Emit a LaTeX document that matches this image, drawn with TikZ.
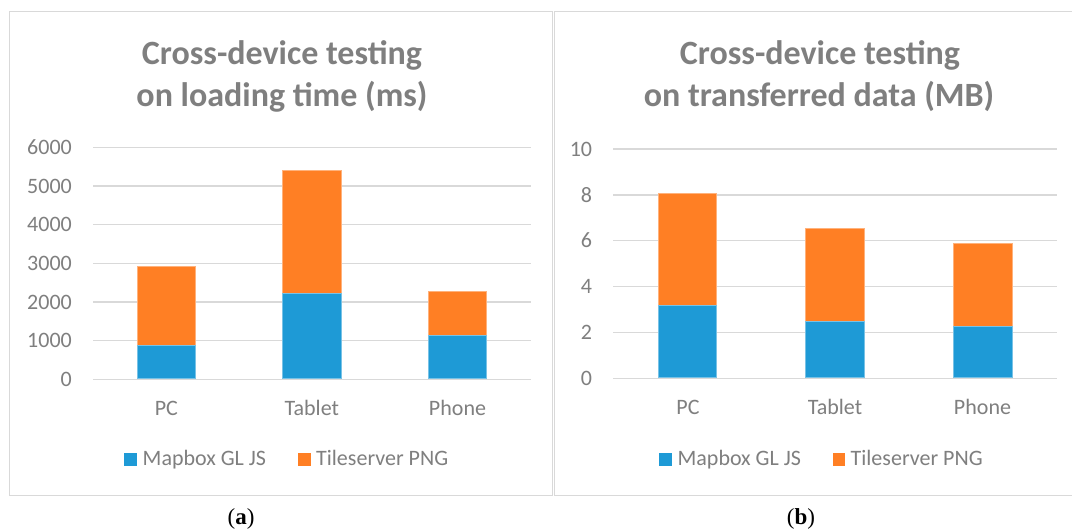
\documentclass[tikz,border=0pt]{standalone}
\usepackage{fontspec}
\setmainfont{Carlito}
\newfontfamily\capfont{Liberation Serif}
\definecolor{mbblue}{HTML}{1E9AD6}
\definecolor{tsorange}{HTML}{FF7F24}
\definecolor{txtgray}{HTML}{7F7F7F}
\definecolor{gridgray}{HTML}{D9D9D9}
\tikzset{
  panel/.style={draw=gridgray, line width=1pt},
  gridline/.style={draw=gridgray, line width=1.5pt},
  charttitle/.style={font=\fontsize{34}{40}\selectfont\bfseries, text=txtgray, anchor=base, inner sep=0},
  ticklabel/.style={font=\fontsize{22}{26}\selectfont, text=txtgray, anchor=base east, inner sep=0},
  catlabel/.style={font=\fontsize{22}{26}\selectfont, text=txtgray, anchor=base, inner sep=0},
  legtext/.style={font=\fontsize{22}{26}\selectfont, text=txtgray, anchor=base west, inner sep=0},
  bluebar/.style={fill=mbblue, draw=mbblue!60!white, line width=0.5pt},
  orangebar/.style={fill=tsorange, draw=tsorange!60!white, line width=0.5pt},
  capt/.style={font=\capfont\fontsize{23}{26}\selectfont, anchor=base, inner sep=0},
}
\begin{document}
\begin{tikzpicture}[x=1pt, y=-1pt]
\useasboundingbox (0,0) rectangle (1072,529);
\fill[white] (0,0) rectangle (1072,529);
\begin{scope}
\clip (0,0) rectangle (1072,529);
% panels
\draw[panel] (9.6,11.5) rectangle (552.3,495.7);
\draw[panel] (554.6,11.7) rectangle (1080,495.7);
\end{scope}

% ===== Left chart =====
\node[charttitle] (ta1) at (282,65) {Cross-device testing};
\node[charttitle] (ta2) at (282,107) {on loading time (ms)};
\foreach \v/\y in {0/379.3,1000/340.6,2000/302,3000/263.3,4000/224.6,5000/186,6000/147.3}{
  \draw[gridline] (93.3,\y) -- (531,\y);
  \node[ticklabel] (la\v) at (72,\y+7.2) {\v};
}
% bars: x0/x1/blue/total
\foreach \n/\xa/\xb/\b/\t in {pc/137.3/195.3/869/2930, tab/282.7/341/2224/5413, ph/428.3/486.7/1128/2284}{
  \fill[orangebar] (\xa,{379.3-\t*0.038667}) rectangle (\xb,{379.3-\b*0.038667});
  \fill[bluebar] (\xa,{379.3-\b*0.038667}) rectangle (\xb,378.6);
}
\node[catlabel] (ca1) at (166.3,416) {PC};
\node[catlabel] (ca2) at (311.8,416) {Tablet};
\node[catlabel] (ca3) at (457.5,416) {Phone};
\fill[mbblue] (124,453.3) rectangle (137,465.7);
\node[legtext] (lga1) at (142.5,466) {Mapbox GL JS};
\fill[tsorange] (297.5,453.3) rectangle (310.5,465.7);
\node[legtext] (lga2) at (316,466) {Tileserver PNG};

% ===== Right chart =====
\node[charttitle] (tb1) at (820,65) {Cross-device testing};
\node[charttitle] (tb2) at (819,107) {on transferred data (MB)};
\foreach \v/\y in {0/378.3,2/332.4,4/286.6,6/240.7,8/194.9,10/149}{
  \draw[gridline] (613.3,\y) -- (1057,\y);
  \node[ticklabel] (lb\v) at (592.3,\y+7.2) {\v};
}
\foreach \n/\xa/\xb/\b/\t in {pc/658/716.7/3.17/8.09, tab/805.7/864.3/2.47/6.54, ph/953/1012/2.28/5.89}{
  \fill[orangebar] (\xa,{378.3-\t*22.93}) rectangle (\xb,{378.3-\b*22.93});
  \fill[bluebar] (\xa,{378.3-\b*22.93}) rectangle (\xb,377.6);
}
\node[catlabel] (cb1) at (688,415) {PC};
\node[catlabel] (cb2) at (835,415) {Tablet};
\node[catlabel] (cb3) at (982.5,415) {Phone};
\fill[mbblue] (659.4,453.3) rectangle (672.3,465.7);
\node[legtext] (lgb1) at (677.4,466) {Mapbox GL JS};
\fill[tsorange] (832.8,453.3) rectangle (845.4,465.7);
\node[legtext] (lgb2) at (850.5,466) {Tileserver PNG};

% captions
\node[capt] (capa) at (241,524) {(\textbf{a})};
\node[capt] (capb) at (801,524) {(\textbf{b})};
\end{tikzpicture}
\end{document}
